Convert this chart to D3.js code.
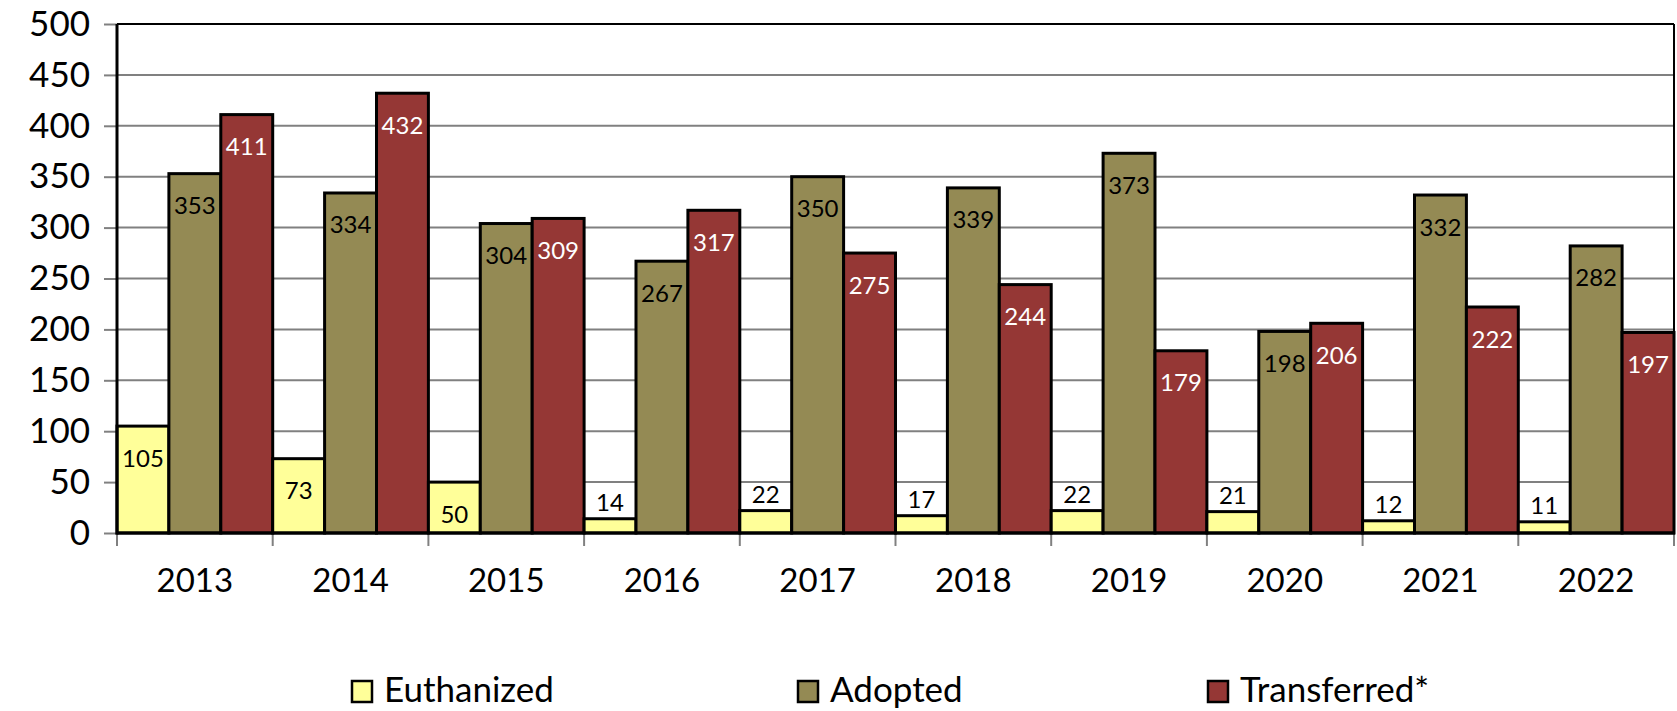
<!DOCTYPE html>
<html>
<head>
<meta charset="utf-8">
<script src="https://cdn.jsdelivr.net/npm/d3@7"></script>
<style>
  html, body { margin: 0; padding: 0; background: #fff; }
  svg { display: block; font-family: Lato, "Open Sans", sans-serif; }
</style>
</head>
<body>
<svg id="chart" width="1677" height="711"></svg>
<script>
// Shelter outcomes by year
const years = ["2013", "2014", "2015", "2016", "2017", "2018", "2019", "2020", "2021", "2022"];
const euthanized = [105, 73, 50, 14, 22, 17, 22, 21, 12, 11];
const adopted = [353, 334, 304, 267, 350, 339, 373, 198, 332, 282];
const transferred = [411, 432, 309, 317, 275, 244, 179, 206, 222, 197];
const seriesNames = ["Euthanized", "Adopted", "Transferred*"];
const seriesFill = ["#FFFF99", "#948A54", "#953735"];
const labelFill = ["#000", "#000", "#fff"];
const yTicks = [0, 50, 100, 150, 200, 250, 300, 350, 400, 450, 500];

const seriesValues = [euthanized, adopted, transferred];

const svg = d3.select("#chart");
const m = { left: 117, top: 24, right: 1674, bottom: 533 };

const x = d3.scaleBand().domain(years).range([m.left, m.right]).padding(0);
const xs = d3.scaleBand().domain(d3.range(3)).range([0, x.bandwidth()]).padding(0);
const y = d3.scaleLinear().domain([0, 500]).range([m.bottom, m.top]);

// horizontal gridlines
svg.append("g").selectAll("line").data(yTicks.filter(t => t > 0 && t < 500)).join("line")
  .attr("x1", m.left).attr("x2", m.right)
  .attr("y1", d => y(d)).attr("y2", d => y(d))
  .attr("stroke", "#808080").attr("stroke-width", 2);

// y axis
const yAxis = svg.append("g").attr("transform", `translate(${m.left},0)`)
  .call(d3.axisLeft(y).tickValues(yTicks).tickSize(13).tickPadding(14));
yAxis.select(".domain").remove();
yAxis.selectAll(".tick line").attr("stroke", "#808080").attr("stroke-width", 2);
yAxis.selectAll(".tick text").attr("font-size", 35).attr("fill", "#000")
  .attr("font-family", "Lato, sans-serif");

// x axis
const xAxis = svg.append("g").attr("transform", `translate(0,${m.bottom})`)
  .call(d3.axisBottom(x).tickSize(0).tickPadding(36));
xAxis.select(".domain").remove();
xAxis.selectAll(".tick text").attr("font-size", 33).attr("fill", "#000")
  .attr("font-family", "Lato, sans-serif");

// category separators below the axis
svg.append("g").selectAll("line").data(years.concat(["end"])).join("line")
  .attr("x1", (d, i) => m.left + i * x.step()).attr("x2", (d, i) => m.left + i * x.step())
  .attr("y1", m.bottom).attr("y2", m.bottom + 13)
  .attr("stroke", "#808080").attr("stroke-width", 2);

// bars
const groups = svg.append("g").selectAll("g").data(years).join("g")
  .attr("transform", d => `translate(${x(d)},0)`);

groups.selectAll("rect").data((d, i) => seriesValues.map((s, k) => ({ k, v: s[i] }))).join("rect")
  .attr("x", d => xs(d.k)).attr("width", xs.bandwidth())
  .attr("y", d => y(d.v)).attr("height", d => y(0) - y(d.v))
  .attr("fill", d => seriesFill[d.k])
  .attr("stroke", "#000").attr("stroke-width", 3);

// data labels: inside the top of the bar, above it when the bar is short
groups.selectAll("text").data((d, i) => seriesValues.map((s, k) => ({ k, v: s[i] }))).join("text")
  .attr("x", d => xs(d.k) + xs.bandwidth() / 2)
  .attr("y", d => (y(0) - y(d.v) > 45) ? y(d.v) + 31 : y(d.v) - 17)
  .attr("text-anchor", "middle").attr("dominant-baseline", "central")
  .attr("font-size", 24)
  .attr("fill", d => (y(0) - y(d.v) > 45) ? labelFill[d.k] : "#000")
  .text(d => d.v);

// plot frame
svg.append("line").attr("x1", m.left).attr("x2", m.right).attr("y1", m.top).attr("y2", m.top)
  .attr("stroke", "#000").attr("stroke-width", 2);
svg.append("line").attr("x1", m.right).attr("x2", m.right).attr("y1", m.top).attr("y2", m.bottom)
  .attr("stroke", "#000").attr("stroke-width", 2);
svg.append("line").attr("x1", m.left).attr("x2", m.left).attr("y1", m.top).attr("y2", m.bottom + 1.5)
  .attr("stroke", "#000").attr("stroke-width", 3);
svg.append("line").attr("x1", m.left).attr("x2", m.right + 1).attr("y1", m.bottom).attr("y2", m.bottom)
  .attr("stroke", "#000").attr("stroke-width", 3);

// legend
const legendX = [352, 798, 1208];
const legend = svg.append("g").selectAll("g").data(seriesNames).join("g")
  .attr("transform", (d, i) => `translate(${legendX[i]},681)`);
legend.append("rect").attr("width", 20).attr("height", 21)
  .attr("fill", (d, i) => seriesFill[i]).attr("stroke", "#000").attr("stroke-width", 2.5);
legend.append("text").attr("x", 32).attr("y", 21)
  .attr("font-size", 35).attr("fill", "#000").text(d => d);
</script>
</body>
</html>
